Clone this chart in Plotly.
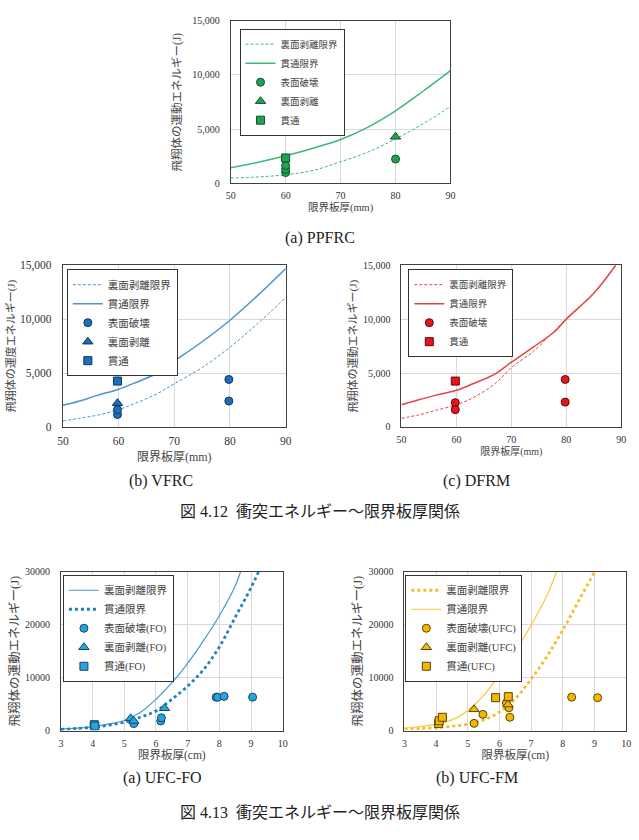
import plotly.graph_objects as go

W, H = 639, 840
FONT = "Liberation Serif, Noto Sans CJK JP, serif"

# ---------------- data ----------------
# (a) PPFRC
a_line_x = [50, 55, 60, 65, 70, 75, 80, 85, 90]
a_spall_lim = [500, 600, 800, 1200, 2000, 2900, 4100, 5500, 7100]
a_perf_lim = [1450, 1950, 2550, 3250, 4050, 5200, 6700, 8500, 10400]
a_surf_x = [60, 60, 60, 80]
a_surf_y = [1000, 1300, 1650, 2250]
a_spall_x = [80]
a_spall_y = [4300]
a_perf_x = [60]
a_perf_y = [2350]

# (b) VFRC
b_line_x = [50, 53, 56, 60, 63, 67, 70, 75, 80, 85, 90]
b_spall_lim = [550, 800, 1070, 1600, 2200, 3100, 4000, 5500, 7400, 9600, 12000]
b_perf_lim = [2000, 2400, 2900, 3500, 4100, 5000, 6100, 7900, 9900, 12200, 14700]
b_surf_x = [59.8, 59.8, 79.8, 79.8]
b_surf_y = [1150, 1600, 4400, 2400]
b_spall_x = [59.8]
b_spall_y = [2200]
b_perf_x = [59.8]
b_perf_y = [4250]

# (c) DFRM
c_line_x = [50, 53, 56, 60, 63, 67, 70, 74, 78, 80, 85, 89]
c_spall_lim = [800, 1100, 1500, 2050, 2700, 4000, 5500, 7000, 9000, 10000, 12400, 15000]
c_perf_lim = [2050, 2500, 2900, 3400, 4000, 4900, 6000, 7400, 8900, 10000, 12400, 15000]
c_surf_x = [59.8, 59.8, 79.8, 79.8]
c_surf_y = [2250, 1600, 4400, 2300]
c_perf_x = [59.8]
c_perf_y = [4250]

# (a) UFC-FO
d_spall_x = [3, 3.5, 4, 4.5, 5, 5.5, 6, 6.5, 7, 7.5, 8, 8.5, 8.7]
d_spall_lim = [300, 450, 750, 1200, 1900, 3400, 5900, 9000, 12700, 17000, 21700, 27300, 30600]
d_perf_x = [3, 3.5, 4, 4.5, 5, 5.5, 6, 6.5, 7, 7.5, 8, 8.5, 9, 9.5]
d_perf_lim = [200, 380, 600, 1000, 1550, 2500, 3700, 5900, 8400, 11500, 15800, 21400, 27000, 33500]
d_surf_x = [5.3, 6.15, 6.17, 7.9, 7.95, 8.15, 9.05]
d_surf_y = [1300, 1800, 2400, 6300, 6300, 6450, 6300]
d_spall_pt_x = [5.2, 5.3, 6.27]
d_spall_pt_y = [2300, 1800, 4200]
d_perf_pt_x = [4.05, 4.07]
d_perf_pt_y = [1100, 850]

# (b) UFC-FM
e_spall_x = [3, 3.5, 4, 4.5, 5, 5.5, 6, 6.5, 7, 7.5, 8, 8.5, 9, 9.2]
e_spall_lim = [300, 400, 550, 800, 1200, 2000, 3500, 6000, 9700, 14000, 19000, 24500, 30000, 32500]
e_perf_x = [3, 3.5, 4, 4.5, 5, 5.5, 6, 6.5, 7, 7.5, 7.8, 8]
e_perf_lim = [400, 750, 1200, 2000, 3800, 6600, 10600, 15000, 19900, 25500, 30000, 33500]
e_surf_x = [5.2, 5.48, 6.22, 6.3, 6.33, 8.28, 9.1]
e_surf_y = [1350, 3050, 5200, 4300, 2500, 6300, 6200]
e_spall_pt_x = [5.2, 6.27]
e_spall_pt_y = [4000, 4900]
e_perf_pt_x = [4.08, 4.1, 4.2, 5.88, 6.28]
e_perf_pt_y = [1300, 1850, 2500, 6200, 6400]

fig = go.Figure()


def px_dom(x0, x1):
    return [x0 / W, x1 / W]


def py_dom(top, bottom):
    return [1 - bottom / H, 1 - top / H]


def add_axes(n, xdom, ydom, xr, yr, xdt, ydt, tickfmt, xtitle, ytitle,
             tfs, xtfs, ytfs, xstand, ystand):
    xs = "xaxis" if n == 1 else f"xaxis{n}"
    ys = "yaxis" if n == 1 else f"yaxis{n}"
    yref = "y" if n == 1 else f"y{n}"
    xref = "x" if n == 1 else f"x{n}"
    common = dict(showgrid=True, gridcolor="#d9d9d9", gridwidth=1,
                  showline=True, linecolor="#404040", linewidth=1, mirror=True,
                  ticks="", zeroline=False,
                  tickfont=dict(family=FONT, size=tfs, color="#333333"))
    fig.layout[xs] = dict(domain=xdom, range=xr, dtick=xdt, tick0=xr[0], anchor=yref,
                          ticklabelstandoff=3,
                          title=dict(text=xtitle, font=dict(family=FONT, size=xtfs, color="#444444"),
                                     standoff=xstand), **common)
    fig.layout[ys] = dict(domain=ydom, range=yr, dtick=ydt, tick0=0, anchor=xref,
                          tickformat=tickfmt, ticklabelstandoff=8,
                          title=dict(text=ytitle, font=dict(family=FONT, size=ytfs, color="#444444"),
                                     standoff=ystand), **common)


def add_line(n, x, y, name, color, width, dash, legend):
    xref = "x" if n == 1 else f"x{n}"
    yref = "y" if n == 1 else f"y{n}"
    fig.add_trace(go.Scatter(x=x, y=y, mode="lines", name=name, xaxis=xref, yaxis=yref,
                             line=dict(color=color, width=width, dash=dash), legend=legend,
                             line_shape="spline"))


def add_pts(n, x, y, name, symbol, fill, edge, size, legend):
    xref = "x" if n == 1 else f"x{n}"
    yref = "y" if n == 1 else f"y{n}"
    fig.add_trace(go.Scatter(x=x, y=y, mode="markers", name=name, xaxis=xref, yaxis=yref,
                             marker=dict(symbol=symbol, color=fill, size=size,
                                         line=dict(color=edge, width=1)), legend=legend))


YT = "飛翔体の運動エネルギー(J)"
YT_B = "飛翔体の運度エネルギー(J)"
XT_MM = "限界板厚(mm)"
XT_CM = "限界板厚(cm)"

# panel (a) PPFRC
add_axes(1, px_dom(229, 453), py_dom(15, 180), [50, 90], [0, 15000], 10, 5000, ",d",
         XT_MM, YT, 10, 10.5, 11.5, 2, 8)
gl, gm, ge = "#3cb878", "#1fa252", "#12502a"
add_line(1, a_line_x, a_spall_lim, "裏面剥離限界", gl, 1, "3px,2px", "legend")
add_line(1, a_line_x, a_perf_lim, "貫通限界", gl, 1.5, "solid", "legend")
add_pts(1, a_surf_x, a_surf_y, "表面破壊", "circle", gm, ge, 8, "legend")
add_pts(1, a_spall_x, a_spall_y, "裏面剥離", "triangle-up", gm, ge, 9, "legend")
add_pts(1, a_perf_x, a_perf_y, "貫通", "square", gm, ge, 8, "legend")

# panel (b) VFRC
add_axes(2, px_dom(58, 285), py_dom(263, 427), [50, 90], [0, 15000], 10, 5000, ",d",
         XT_MM, YT_B, 11.5, 12, 11, 6, 2)
bl, bm, be = "#4f93d2", "#1f6fb8", "#0b3560"
add_line(2, b_line_x, b_spall_lim, "裏面剥離限界", bl, 1, "3px,2px", "legend2")
add_line(2, b_line_x, b_perf_lim, "貫通限界", bl, 1.5, "solid", "legend2")
add_pts(2, b_surf_x, b_surf_y, "表面破壊", "circle", bm, be, 8, "legend2")
add_pts(2, b_spall_x, b_spall_y, "裏面剥離", "triangle-up", bm, be, 9, "legend2")
add_pts(2, b_perf_x, b_perf_y, "貫通", "square", bm, be, 8, "legend2")

# panel (c) DFRM
add_axes(3, px_dom(403, 627), py_dom(263, 427), [50, 90], [0, 15000], 10, 5000, ",d",
         XT_MM, YT, 10, 10, 11, 1, 3)
rl, rm, re_ = "#e8424a", "#e3161e", "#6e0000"
add_line(3, c_line_x, c_spall_lim, "裏面剥離限界", rl, 1, "3px,2px", "legend3")
add_line(3, c_line_x, c_perf_lim, "貫通限界", rl, 1.5, "solid", "legend3")
add_pts(3, c_surf_x, c_surf_y, "表面破壊", "circle", rm, re_, 8, "legend3")
add_pts(3, c_perf_x, c_perf_y, "貫通", "square", rm, re_, 8, "legend3")

# panel (a) UFC-FO
add_axes(4, px_dom(56, 282), py_dom(574, 735), [3, 10], [0, 30000], 1, 10000, "d",
         XT_CM, YT, 10, 11.5, 12.5, 3, 2)
dl, dd, dm, de = "#4a97d0", "#1f80c2", "#2aa3da", "#0e4a6c"
add_line(4, d_spall_x, d_spall_lim, "裏面剥離限界", dl, 1.2, "solid", "legend4")
add_line(4, d_perf_x, d_perf_lim, "貫通限界", dd, 2.8, "dot", "legend4")
add_pts(4, d_surf_x, d_surf_y, "表面破壊(FO)", "circle", dm, de, 8, "legend4")
add_pts(4, d_spall_pt_x, d_spall_pt_y, "裏面剥離(FO)", "triangle-up", dm, de, 9, "legend4")
add_pts(4, d_perf_pt_x, d_perf_pt_y, "貫通(FO)", "square", dm, de, 8, "legend4")

# panel (b) UFC-FM
add_axes(5, px_dom(406, 632), py_dom(574, 735), [3, 10], [0, 30000], 1, 10000, "d",
         XT_CM, YT, 10, 11.5, 12.5, 3, 2)
el, ed, em, ee = "#ffc633", "#f5bd2a", "#f2b705", "#5c4500"
add_line(5, e_spall_x, e_spall_lim, "裏面剥離限界", ed, 2.8, "dot", "legend5")
add_line(5, e_perf_x, e_perf_lim, "貫通限界", el, 1.2, "solid", "legend5")
add_pts(5, e_surf_x, e_surf_y, "表面破壊(UFC)", "circle", em, ee, 8, "legend5")
add_pts(5, e_spall_pt_x, e_spall_pt_y, "裏面剥離(UFC)", "triangle-up", em, ee, 9, "legend5")
add_pts(5, e_perf_pt_x, e_perf_pt_y, "貫通(UFC)", "square", em, ee, 8, "legend5")


def legend_at(px, py, size):
    return dict(x=px / W, y=1 - py / H, xanchor="left", yanchor="top",
                bgcolor="white", bordercolor="#333333", borderwidth=1,
                font=dict(family=FONT, size=size, color="#444444"),
                tracegroupgap=0, itemwidth=30)


fig.update_layout(
    width=W, height=H, margin=dict(l=0, r=0, t=0, b=0),
    paper_bgcolor="white", plot_bgcolor="white", showlegend=True,
    legend=legend_at(238, 23, 9.5),
    legend2=legend_at(62, 267, 10.5),
    legend3=legend_at(410, 267, 9.5),
    legend4=legend_at(58, 577, 10.5),
    legend5=legend_at(407, 577, 10.5),
)

captions = [
    ("(a) PPFRC", 320, 235, 16),
    ("(b) VFRC", 158, 482, 16),
    ("(c) DFRM", 480, 482, 16),
    ("図 4.12  衝突エネルギー～限界板厚関係", 320, 513, 16),
    ("(a) UFC-FO", 160, 783, 16),
    ("(b) UFC-FM", 480, 783, 16),
    ("図 4.13  衝突エネルギー～限界板厚関係", 320, 818, 16),
]
for text, cx, cy, fs in captions:
    fig.add_annotation(text=text, x=cx / W, y=1 - cy / H, xref="paper", yref="paper",
                       xanchor="center", yanchor="middle", showarrow=False,
                       font=dict(family=FONT, size=fs, color="#222222"))

fig.write_html("out.html")
